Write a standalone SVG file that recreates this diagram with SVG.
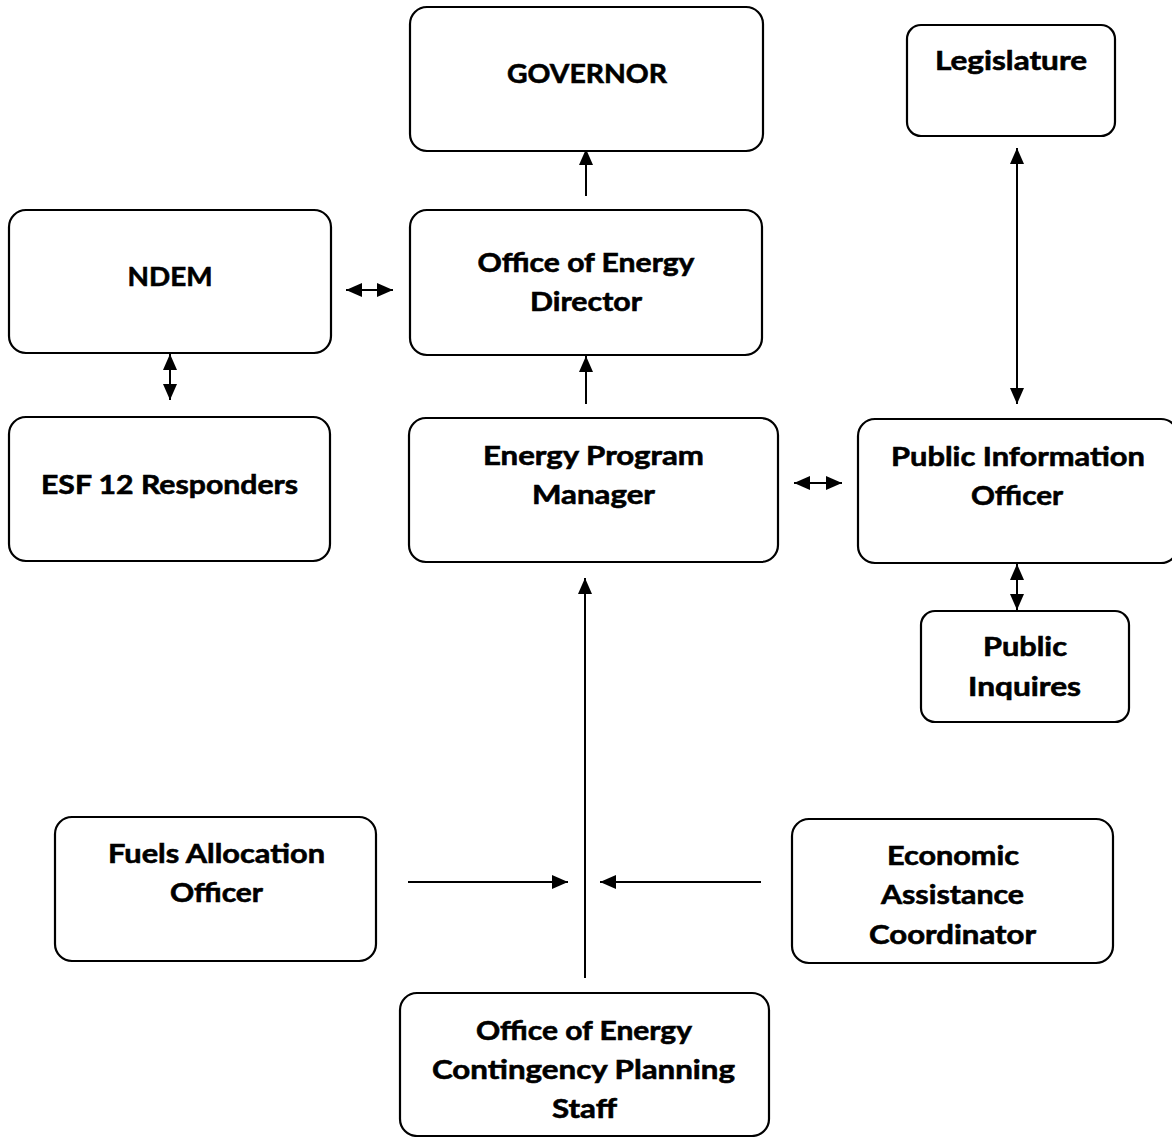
<svg xmlns="http://www.w3.org/2000/svg" width="1172" height="1137" viewBox="0 0 1172 1137">
<style>
.box{fill:#fff;stroke:#000;stroke-width:2.2}
.t{font-family:Lato,"Open Sans","Liberation Sans",sans-serif;font-weight:700;font-size:27px;fill:#000;stroke:#000;stroke-width:0.6;text-anchor:middle}
.c{stroke:#000;stroke-width:2;fill:none}
</style>
<defs>
<marker id="ah" viewBox="0 0 16 14" refX="16" refY="7" markerWidth="16" markerHeight="14" markerUnits="userSpaceOnUse" orient="auto-start-reverse">
<path d="M0,0 L16,7 L0,14 Z" fill="#000"/>
</marker>
</defs>
<rect width="1172" height="1137" fill="#fff"/>
<g id="connectors">
<line class="c" x1="586" y1="196" x2="586" y2="149" marker-end="url(#ah)"/>
<line class="c" x1="346" y1="290" x2="393" y2="290" marker-start="url(#ah)" marker-end="url(#ah)"/>
<line class="c" x1="170" y1="354" x2="170" y2="400" marker-start="url(#ah)" marker-end="url(#ah)"/>
<line class="c" x1="586" y1="404" x2="586" y2="356" marker-end="url(#ah)"/>
<line class="c" x1="1017" y1="148" x2="1017" y2="404" marker-start="url(#ah)" marker-end="url(#ah)"/>
<line class="c" x1="794" y1="483" x2="842" y2="483" marker-start="url(#ah)" marker-end="url(#ah)"/>
<line class="c" x1="1017" y1="564" x2="1017" y2="610" marker-start="url(#ah)" marker-end="url(#ah)"/>
<line class="c" x1="585" y1="978" x2="585" y2="578" marker-end="url(#ah)"/>
<line class="c" x1="408" y1="882" x2="568" y2="882" marker-end="url(#ah)"/>
<line class="c" x1="761" y1="882" x2="600" y2="882" marker-end="url(#ah)"/>
</g>
<g id="governor"><rect class="box" x="410" y="7" width="353" height="144" rx="17"/><text class="t" x="587" y="83" textLength="160" lengthAdjust="spacingAndGlyphs">GOVERNOR</text></g>
<g id="legislature"><rect class="box" x="907" y="25" width="208" height="111" rx="14"/><text class="t" x="1011" y="70" textLength="152" lengthAdjust="spacingAndGlyphs">Legislature</text></g>
<g id="ndem"><rect class="box" x="9" y="210" width="322" height="143" rx="17"/><text class="t" x="170" y="286" textLength="85" lengthAdjust="spacingAndGlyphs">NDEM</text></g>
<g id="director"><rect class="box" x="410" y="210" width="352" height="145" rx="17"/><text class="t" x="586" y="272" textLength="217" lengthAdjust="spacingAndGlyphs">Office of Energy</text><text class="t" x="586" y="311" textLength="112" lengthAdjust="spacingAndGlyphs">Director</text></g>
<g id="esf12"><rect class="box" x="9" y="417" width="321" height="144" rx="17"/><text class="t" x="169.5" y="494" textLength="257" lengthAdjust="spacingAndGlyphs">ESF 12 Responders</text></g>
<g id="epm"><rect class="box" x="409" y="418" width="369" height="144" rx="17"/><text class="t" x="593.5" y="465" textLength="221" lengthAdjust="spacingAndGlyphs">Energy Program</text><text class="t" x="593.5" y="504" textLength="123" lengthAdjust="spacingAndGlyphs">Manager</text></g>
<g id="pio"><rect class="box" x="858" y="419" width="320" height="144" rx="17"/><text class="t" x="1018" y="466" textLength="254" lengthAdjust="spacingAndGlyphs">Public Information</text><text class="t" x="1017" y="505" textLength="92" lengthAdjust="spacingAndGlyphs">Officer</text></g>
<g id="inquires"><rect class="box" x="921" y="611" width="208" height="111" rx="14"/><text class="t" x="1025" y="656" textLength="84" lengthAdjust="spacingAndGlyphs">Public</text><text class="t" x="1024.5" y="696" textLength="113" lengthAdjust="spacingAndGlyphs">Inquires</text></g>
<g id="fuels"><rect class="box" x="55" y="817" width="321" height="144" rx="17"/><text class="t" x="216.5" y="863" textLength="217" lengthAdjust="spacingAndGlyphs">Fuels Allocation</text><text class="t" x="216.5" y="902" textLength="93" lengthAdjust="spacingAndGlyphs">Officer</text></g>
<g id="economic"><rect class="box" x="792" y="819" width="321" height="144" rx="17"/><text class="t" x="953" y="865" textLength="132" lengthAdjust="spacingAndGlyphs">Economic</text><text class="t" x="952.5" y="904" textLength="143" lengthAdjust="spacingAndGlyphs">Assistance</text><text class="t" x="952.5" y="944" textLength="167" lengthAdjust="spacingAndGlyphs">Coordinator</text></g>
<g id="staff"><rect class="box" x="400" y="993" width="369" height="143" rx="17"/><text class="t" x="584" y="1040" textLength="216" lengthAdjust="spacingAndGlyphs">Office of Energy</text><text class="t" x="583.5" y="1079" textLength="303" lengthAdjust="spacingAndGlyphs">Contingency Planning</text><text class="t" x="584.5" y="1118" textLength="65" lengthAdjust="spacingAndGlyphs">Staff</text></g>
</svg>
